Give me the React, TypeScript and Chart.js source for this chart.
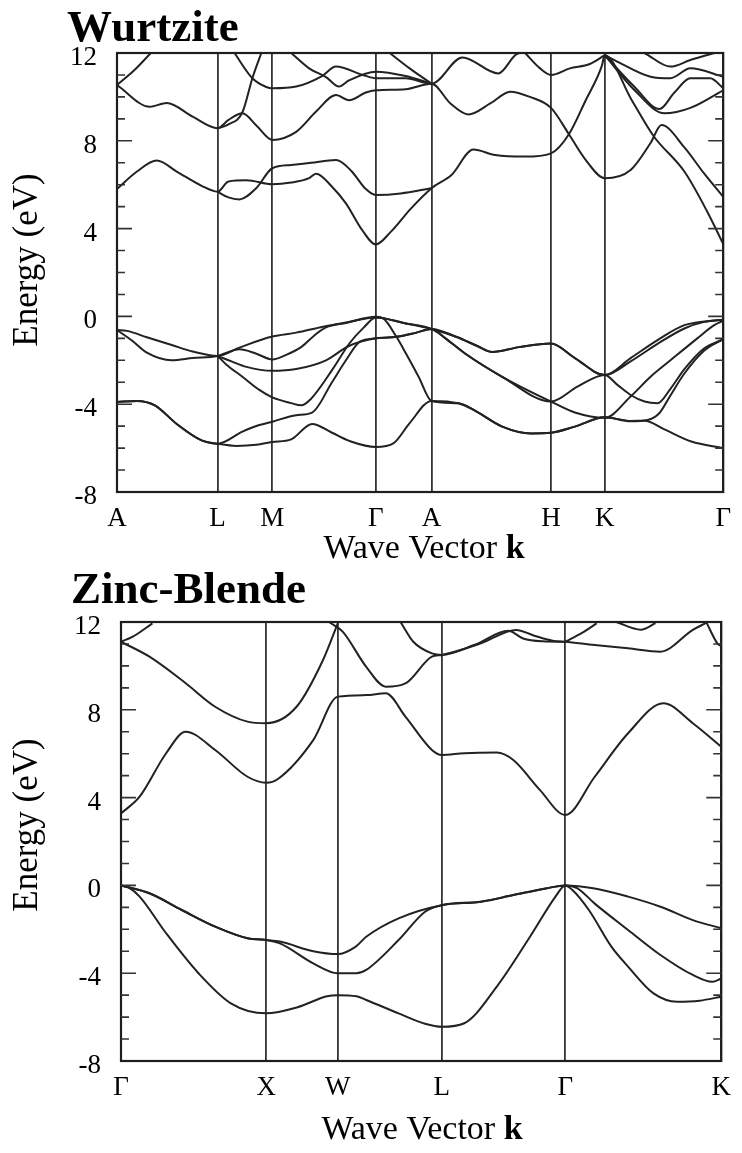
import React, { useEffect, useRef } from 'react';
import { Chart, registerables } from 'chart.js';
Chart.register(...registerables);

// ---------- axes ----------
const energyTicks = [-8, -4, 0, 4, 8, 12];
const wzKPoints = [0, 1.01, 1.56, 2.6, 3.16, 4.36, 4.9, 6.09];
const wzKLabels = ['A', 'L', 'M', 'Γ', 'A', 'H', 'K', 'Γ'];
const zbKPoints = [0, 1.48, 2.21, 3.27, 4.53, 6.12];
const zbKLabels = ['Γ', 'X', 'W', 'L', 'Γ', 'K'];

// ---------- Wurtzite valence bands [k, E] ----------
const wzV1 = [[0,-0.62],[0.1,-0.66],[0.3,-0.95],[0.55,-1.3],[0.76,-1.6],[1.01,-1.8],[1.23,-1.42],[1.56,-0.92],[1.8,-0.74],[2.07,-0.47],[2.3,-0.28],[2.6,-0.05],[2.88,-0.3],[3.16,-0.57],[3.42,-0.95],[3.62,-1.35],[3.77,-1.62],[4.04,-1.4],[4.36,-1.24],[4.6,-1.9],[4.9,-2.67],[5.16,-1.9],[5.43,-1.08],[5.7,-0.4],[6.09,-0.15]];
const wzV2 = [[0,-0.62],[0.15,-1.1],[0.3,-1.65],[0.55,-2.0],[0.76,-1.9],[1.01,-1.8],[1.23,-1.5],[1.4,-1.7],[1.56,-1.96],[1.7,-1.75],[1.85,-1.4],[2.0,-0.8],[2.1,-0.5],[2.3,-0.3],[2.6,-0.02],[2.67,-0.08],[2.81,-0.95],[2.91,-1.75],[3.03,-2.75],[3.16,-3.85],[3.43,-3.96],[3.6,-4.3],[3.87,-5.02],[4.16,-5.33],[4.36,-5.3],[4.6,-5.02],[4.9,-4.6],[5.16,-4.76],[5.3,-4.75],[5.5,-5.15],[5.77,-5.7],[6.09,-6.0]];
const wzV3 = [[1.01,-1.8],[1.15,-2.05],[1.3,-2.3],[1.56,-2.48],[1.8,-2.4],[2.1,-2.0],[2.33,-1.35],[2.6,-1.0],[2.81,-0.93],[3.0,-0.75],[3.16,-0.57],[3.3,-1.0],[3.5,-1.7],[3.87,-2.75],[4.36,-3.88],[4.63,-3.19],[4.9,-2.67],[5.03,-3.13],[5.16,-3.58],[5.3,-3.88],[5.43,-3.96],[5.56,-3.3],[5.7,-2.4],[5.9,-1.45],[6.09,-1.04]];
const wzV4 = [[1.01,-1.8],[1.1,-2.2],[1.26,-2.75],[1.43,-3.35],[1.56,-3.69],[1.75,-3.95],[1.85,-4.05],[1.95,-3.75],[2.16,-2.45],[2.34,-1.2],[2.48,-0.5],[2.6,-0.05],[2.88,-0.3],[3.16,-0.57],[3.3,-1.0],[3.5,-1.7],[3.87,-2.75],[4.36,-3.88],[4.6,-4.38],[4.9,-4.62],[5.16,-3.65],[5.36,-2.75],[5.56,-2.0],[5.83,-1.0],[6.0,-0.4],[6.09,-0.2]];
const wzV5 = [[0,-3.9],[0.2,-3.85],[0.38,-4.05],[0.6,-4.9],[0.85,-5.65],[1.01,-5.8],[1.26,-5.25],[1.43,-4.95],[1.56,-4.8],[1.8,-4.5],[1.96,-4.38],[2.16,-3.0],[2.3,-2.0],[2.44,-1.15],[2.6,-1.0],[2.81,-0.93],[3.0,-0.75],[3.16,-0.57],[3.42,-0.95],[3.62,-1.35],[3.77,-1.62],[4.04,-1.4],[4.36,-1.24],[4.6,-1.9],[4.9,-2.67],[5.16,-2.05],[5.43,-1.25],[5.7,-0.55],[5.9,-0.25],[6.09,-0.15]];
const wzV6 = [[0,-3.9],[0.2,-3.85],[0.38,-4.05],[0.6,-4.9],[0.85,-5.65],[1.01,-5.8],[1.2,-5.9],[1.4,-5.85],[1.56,-5.72],[1.75,-5.6],[1.96,-4.9],[2.16,-5.3],[2.35,-5.7],[2.6,-5.95],[2.78,-5.77],[2.94,-4.86],[3.16,-3.85],[3.43,-3.96],[3.6,-4.3],[3.87,-5.02],[4.16,-5.33],[4.36,-5.3],[4.6,-5.02],[4.9,-4.6],[5.16,-4.78],[5.33,-4.72],[5.45,-4.4],[5.56,-3.6],[5.7,-2.6],[5.9,-1.55],[6.09,-1.04]];

// ---------- Wurtzite conduction bands [k, E] ----------
const wzC1 = [[0,5.8],[0.2,6.6],[0.4,7.1],[0.6,6.6],[0.85,5.95],[1.01,5.68],[1.12,6.15],[1.3,6.2],[1.56,6.02],[1.75,6.1],[1.93,6.3],[2.0,6.5],[2.16,5.91],[2.3,5.15],[2.46,3.95],[2.6,3.28],[2.75,3.85],[2.95,4.9],[3.16,5.84],[3.36,6.44],[3.58,7.6],[3.8,7.35],[4.1,7.28],[4.36,7.43],[4.54,8.3],[4.71,9.86],[4.87,11.4],[4.9,11.9],[5.17,9.86],[5.39,8.22],[5.7,6.6],[5.93,4.77],[6.09,3.3]];
const wzC2 = [[1.01,5.68],[1.12,5.42],[1.23,5.33],[1.4,5.85],[1.56,6.75],[1.75,6.9],[1.95,7.0],[2.2,7.12],[2.35,6.65],[2.5,5.8],[2.6,5.53],[2.85,5.6],[3.16,5.84]];
const wzC3 = [[0,10.54],[0.33,9.55],[0.5,9.72],[0.76,9.1],[1.01,8.57],[1.12,8.95],[1.26,9.25],[1.4,8.7],[1.56,8.04],[1.8,8.41],[2.0,9.33],[2.2,10.09],[2.33,9.85],[2.5,10.2],[2.6,10.3],[2.9,10.35],[3.16,10.6],[3.35,9.7],[3.53,9.2],[3.75,9.7],[3.95,10.24],[4.15,10.0],[4.36,9.5],[4.54,8.3],[4.71,7.12],[4.9,6.29],[5.16,6.67],[5.36,7.9],[5.47,8.72],[5.7,7.7],[5.9,6.5],[6.09,5.45]];
const wzC4 = [[1.01,8.57],[1.12,8.75],[1.26,9.3],[1.36,10.85],[1.45,12]];
const wzC5 = [[0,10.54],[0.17,11.2],[0.34,12]];
const wzC6 = [[1.18,12],[1.36,10.85],[1.5,10.45],[1.56,10.39],[1.8,10.47],[2.06,10.95],[2.2,11.38],[2.47,11.0],[2.6,10.85],[2.9,10.85],[3.16,10.6],[3.47,11.8],[3.83,11.07],[4.0,11.9],[4.04,12]];
const wzC7 = [[1.75,12],[1.93,11.3],[2.1,10.9],[2.23,10.47],[2.33,10.75],[2.6,11.15],[2.9,10.95],[3.16,10.6]];
const wzC8 = [[2.74,12],[2.94,11.3],[3.16,10.6]];
const wzC9 = [[4.1,12],[4.25,11.3],[4.36,11.0],[4.55,11.3],[4.75,11.5],[4.9,11.9]];
const wzC10 = [[4.9,11.9],[5.03,11.6],[5.36,10.92],[5.56,10.85],[5.76,11.3],[6.09,10.92]];
const wzC11 = [[5.3,12],[5.56,11.38],[5.76,11.68],[6.0,12]];
const wzC12 = [[4.9,11.9],[5.2,10.3],[5.5,9.25],[5.76,9.5],[6.09,10.3]];
const wzC13 = [[4.9,11.9],[5.2,10.45],[5.45,9.45],[5.6,10.2],[5.76,10.85],[5.96,10.85],[6.09,10.4]];

// ---------- Zinc-blende valence bands [k, E] ----------
const zbV1 = [[0,0],[0.29,-0.36],[0.62,-1.12],[0.96,-1.88],[1.29,-2.41],[1.48,-2.49],[1.62,-2.56],[1.96,-3.0],[2.21,-3.13],[2.39,-2.8],[2.5,-2.34],[2.83,-1.5],[3.27,-0.9],[3.67,-0.74],[4.0,-0.44],[4.33,-0.14],[4.53,0],[4.83,-0.14],[5.17,-0.51],[5.5,-0.97],[5.83,-1.58],[6.12,-1.95]];
const zbV2 = [[0,0],[0.08,-0.1],[0.19,-0.51],[0.46,-2.18],[0.79,-4.0],[1.12,-5.37],[1.48,-5.83],[1.8,-5.55],[2.1,-5.05],[2.21,-5.0],[2.4,-5.05],[2.5,-5.22],[2.83,-5.83],[3.1,-6.3],[3.27,-6.44],[3.5,-6.28],[3.83,-4.62],[4.17,-2.34],[4.43,-0.51],[4.53,0],[4.6,-0.2],[4.77,-1.12],[5.0,-2.79],[5.17,-3.7],[5.43,-4.92],[5.67,-5.3],[5.9,-5.25],[6.12,-5.07]];
const zbV3 = [[0,0],[0.29,-0.36],[0.62,-1.12],[0.96,-1.88],[1.29,-2.41],[1.48,-2.49],[1.62,-2.64],[1.96,-3.55],[2.21,-4.0],[2.4,-4.0],[2.5,-3.85],[2.83,-2.49],[3.1,-1.2],[3.27,-0.9],[3.67,-0.74],[4.0,-0.44],[4.33,-0.14],[4.53,0],[4.65,-0.12],[4.83,-0.83],[5.17,-2.03],[5.5,-3.17],[5.83,-4.08],[6.03,-4.39],[6.12,-4.24]];

// ---------- Zinc-blende conduction bands [k, E] ----------
const zbC1 = [[0,3.28],[0.19,4.04],[0.46,6.02],[0.66,7.0],[0.96,6.17],[1.29,4.95],[1.48,4.68],[1.6,4.85],[1.96,6.62],[2.21,8.6],[2.5,8.67],[2.7,8.75],[2.9,7.69],[3.17,6.17],[3.27,5.94],[3.5,6.02],[3.83,6.05],[4.0,5.71],[4.27,4.35],[4.53,3.21],[4.83,4.95],[5.17,6.93],[5.53,8.3],[5.83,7.39],[6.12,6.32]];
const zbC2 = [[0,11.1],[0.29,10.42],[0.66,9.21],[0.96,8.14],[1.29,7.46],[1.48,7.39],[1.79,8.14],[2.06,10.27],[2.21,11.94]];
const zbC3 = [[2.12,12],[2.26,11.56],[2.5,9.96],[2.7,9.05],[2.9,9.2],[3.17,10.42],[3.27,10.5],[3.67,11.03],[4.03,11.64],[4.2,11.4],[4.4,11.15],[4.53,11.1],[4.83,10.95],[5.17,10.8],[5.5,10.65],[5.83,11.64],[5.97,11.97]];
const zbC4 = [[4.53,11.1],[4.7,11.5],[4.85,11.94]];
const zbC5 = [[2.85,12],[2.98,11.1],[3.17,10.57],[3.27,10.5],[3.6,10.95],[3.95,11.6],[4.1,11.25],[4.3,11.12],[4.53,11.1]];
const zbC6 = [[5.05,12],[5.3,11.65],[5.45,11.95]];
const zbC7 = [[0,11.1],[0.12,11.33],[0.32,11.94]];
const zbC8 = [[5.97,11.97],[6.08,11.03],[6.12,10.9]];

const wzBands = [wzV1, wzV2, wzV3, wzV4, wzV5, wzV6, wzC1, wzC2, wzC3, wzC4, wzC5, wzC6, wzC7, wzC8, wzC9, wzC10, wzC11, wzC12, wzC13];
const zbBands = [zbV1, zbV2, zbV3, zbC1, zbC2, zbC3, zbC4, zbC5, zbC6, zbC7, zbC8];

const SERIF = '"Liberation Serif", "DejaVu Serif", serif';
const INK = '#222';

type Panel = {
  title: string;
  bands: number[][][];
  kPoints: number[];
  kLabels: string[];
  height: number;
  padTop: number;
  padRight: number;
  yWidth: number;
  xHeight: number;
  titleBaseline: number;
  yTitleY: number;
  xTitleX: number;
  xTitleY: number;
};

function makeChart(canvas: HTMLCanvasElement, p: Panel) {
  const decor = {
    id: 'decor',
    afterDraw(chart: any) {
      const { ctx, chartArea: a, scales } = chart;
      const ys = scales.y;
      ctx.save();
      // frame
      ctx.strokeStyle = '#1e1e1e';
      ctx.lineWidth = 2.2;
      ctx.strokeRect(a.left, a.top, a.right - a.left, a.bottom - a.top);
      // inner ticks on left and right
      ctx.lineWidth = 1.6;
      ctx.strokeStyle = '#333';
      ctx.beginPath();
      for (let v = -7; v <= 11; v++) {
        const py = ys.getPixelForValue(v);
        const len = v % 4 === 0 ? 15 : 8;
        ctx.moveTo(a.left, py);
        ctx.lineTo(a.left + len, py);
        ctx.moveTo(a.right, py);
        ctx.lineTo(a.right - len, py);
      }
      ctx.stroke();
      ctx.fillStyle = '#000';
      // panel title
      ctx.font = `bold 45px ${SERIF}`;
      ctx.textAlign = 'left';
      ctx.textBaseline = 'alphabetic';
      ctx.fillText(p.title, a.left - 50, p.titleBaseline);
      // y title
      ctx.save();
      ctx.translate(28, p.yTitleY);
      ctx.rotate(-Math.PI / 2);
      ctx.font = `35px ${SERIF}`;
      ctx.textAlign = 'center';
      ctx.textBaseline = 'middle';
      ctx.fillText('Energy (eV)', 0, 0);
      ctx.restore();
      // x title with bold k
      const part1 = 'Wave Vector ';
      const part2 = 'k';
      ctx.font = `34px ${SERIF}`;
      const w1 = ctx.measureText(part1).width;
      ctx.font = `bold 34px ${SERIF}`;
      const w2 = ctx.measureText(part2).width;
      const x0 = p.xTitleX - (w1 + w2) / 2;
      ctx.textAlign = 'left';
      ctx.textBaseline = 'middle';
      ctx.font = `34px ${SERIF}`;
      ctx.fillText(part1, x0, p.xTitleY);
      ctx.font = `bold 34px ${SERIF}`;
      ctx.fillText(part2, x0 + w1, p.xTitleY);
      ctx.restore();
    },
  };

  return new Chart(canvas, {
    type: 'scatter',
    data: {
      datasets: p.bands.map((b) => ({
        data: b.map(([x, y]) => ({ x, y })),
        showLine: true,
        borderColor: INK,
        borderWidth: 2,
        pointRadius: 0,
        fill: false,
        cubicInterpolationMode: 'monotone' as const,
      })),
    },
    options: {
      responsive: false,
      animation: false,
      devicePixelRatio: 1,
      events: [],
      layout: { padding: { top: p.padTop, right: p.padRight, left: 0, bottom: 0 } },
      plugins: { legend: { display: false }, tooltip: { enabled: false }, title: { display: false } },
      scales: {
        x: {
          type: 'linear',
          min: 0,
          max: p.kPoints[p.kPoints.length - 1],
          afterBuildTicks: (s: any) => {
            s.ticks = p.kPoints.map((v) => ({ value: v }));
          },
          afterFit: (s: any) => {
            s.height = p.xHeight;
          },
          ticks: {
            autoSkip: false,
            maxRotation: 0,
            padding: 11,
            color: '#000',
            font: { family: SERIF, size: 27 },
            callback: (_v: any, i: number) => p.kLabels[i],
          },
          grid: { color: '#333', lineWidth: 1.8, drawTicks: false },
          border: { display: false },
        },
        y: {
          type: 'linear',
          min: -8,
          max: 12,
          afterBuildTicks: (s: any) => {
            s.ticks = energyTicks.map((v) => ({ value: v }));
          },
          afterFit: (s: any) => {
            s.width = p.yWidth;
          },
          ticks: {
            padding: 20,
            labelOffset: 5,
            color: '#000',
            font: { family: SERIF, size: 27 },
            callback: (v: any) => String(v),
          },
          grid: { display: false, drawTicks: false },
          border: { display: false },
        },
      },
    },
    plugins: [decor],
  } as any);
}

const topPanel: Panel = {
  title: 'Wurtzite',
  bands: wzBands,
  kPoints: wzKPoints,
  kLabels: wzKLabels,
  height: 566,
  padTop: 53,
  padRight: 16,
  yWidth: 117,
  xHeight: 74,
  titleBaseline: 41,
  yTitleY: 260,
  xTitleX: 424,
  xTitleY: 549,
};

const bottomPanel: Panel = {
  title: 'Zinc-Blende',
  bands: zbBands,
  kPoints: zbKPoints,
  kLabels: zbKLabels,
  height: 587,
  padTop: 56,
  padRight: 9,
  yWidth: 121,
  xHeight: 92,
  titleBaseline: 37,
  yTitleY: 259,
  xTitleX: 422,
  xTitleY: 564,
};

function BandChart({ panel }: { panel: Panel }) {
  const ref = useRef<HTMLCanvasElement | null>(null);
  useEffect(() => {
    if (!ref.current) return;
    const chart = makeChart(ref.current, panel);
    return () => chart.destroy();
  }, [panel]);
  return <canvas ref={ref} width={742} height={panel.height} style={{ display: 'block', width: 742, height: panel.height }} />;
}

export default function App() {
  useEffect(() => {
    document.body.style.margin = '0';
    document.body.style.background = '#fff';
  }, []);
  return (
    <div style={{ width: 742, background: '#fff' }}>
      <BandChart panel={topPanel} />
      <BandChart panel={bottomPanel} />
    </div>
  );
}
